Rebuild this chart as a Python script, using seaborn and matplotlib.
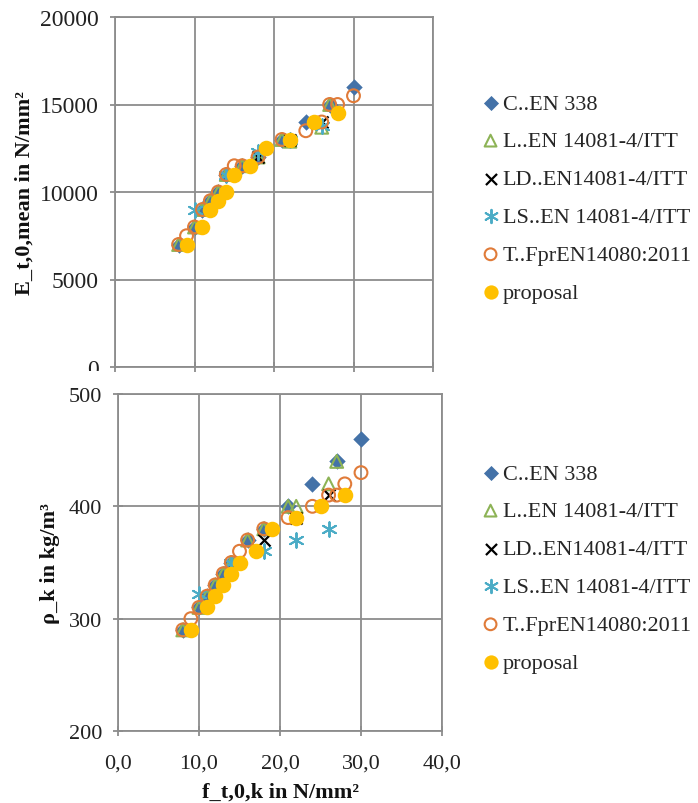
import numpy as np
import pandas as pd
import seaborn as sns
import matplotlib.pyplot as plt
from matplotlib.patches import Rectangle
from matplotlib.ticker import FuncFormatter

# C..EN 338
c_f = [8, 10, 11, 12, 13, 14, 16, 18, 21, 24, 27, 30]
c_e = [7000, 8000, 9000, 9500, 10000, 11000, 11500, 12000, 13000, 14000, 15000, 16000]
c_rho = [290, 310, 320, 330, 340, 350, 370, 380, 400, 420, 440, 460]

# L..EN 14081-4/ITT
l_f = [8, 10, 11, 12, 13, 14, 16, 18, 21, 22, 26, 27]
l_e = [7000, 8000, 9000, 9500, 10000, 11000, 11500, 12000, 13000, 12900, 13700, 15000]
l_rho = [290, 310, 320, 330, 340, 350, 370, 380, 400, 400, 420, 440]

# LD..EN14081-4/ITT
ld_f = [18, 22, 26]
ld_e = [12000, 13000, 14000]
ld_rho = [370, 390, 410]

# LS..EN 14081-4/ITT
ls_f = [10, 14, 18, 22, 26]
ls_e = [9000, 11000, 12300, 13000, 13800]
ls_rho = [322, 350, 360, 370, 380]

# T..FprEN14080:2011
t_f = [8, 9, 10, 11, 12, 13, 14, 15, 16, 18, 21, 24, 26, 27, 28, 30]
t_e = [7000, 7500, 8000, 9000, 9500, 10000, 11000, 11500, 11500, 12000, 13000, 13500,
       14000, 15000, 15000, 15500]
t_rho = [290, 300, 310, 320, 330, 340, 350, 360, 370, 380, 390, 400, 410, 410, 420, 430]

# proposal
p_f = [9, 11, 12, 13, 14, 15, 17, 19, 22, 25, 28]
p_e = [7000, 8000, 9000, 9500, 10000, 11000, 11500, 12500, 13000, 14000, 14500]
p_rho = [290, 310, 320, 330, 340, 350, 360, 380, 390, 400, 410]

labels = ["C..EN 338", "L..EN 14081-4/ITT", "LD..EN14081-4/ITT",
          "LS..EN 14081-4/ITT", "T..FprEN14080:2011", "proposal"]

sns.set_theme(style="white")
plt.rcParams['font.family'] = ['Liberation Serif', 'DejaVu Serif']

series = [
    (labels[0], c_f, c_e, c_rho, dict(marker='D', color='#4472A8', s=70, linewidth=0)),
    (labels[1], l_f, l_e, l_rho, dict(marker='^', color='#8DB356', facecolor='none',
                                      edgecolor='#8DB356', s=85, linewidth=1.5)),
    (labels[2], ld_f, ld_e, ld_rho, dict(marker='x', color='black', s=75, linewidth=1.6)),
    (labels[3], ls_f, ls_e, ls_rho, dict(marker=(6, 2, 0), color='#4BACC6', s=110, linewidth=1.4)),
    (labels[4], t_f, t_e, t_rho, dict(marker='o', color='#E07B39', facecolor='none',
                                      edgecolor='#E07B39', s=85, linewidth=1.5)),
    (labels[5], p_f, p_e, p_rho, dict(marker='o', color='#FFC000', s=125, linewidth=0)),
]

grey = '#8c8c8c'
fig = plt.figure(figsize=(6.98, 8.04), dpi=100)
ax1 = fig.add_axes([115 / 698, 1 - 368 / 804, 318 / 698, 350 / 804])
ax2 = fig.add_axes([118 / 698, 1 - 732 / 804, 324 / 698, 337 / 804])

for lab, f, e, rho, kw in series:
    sns.scatterplot(x=f, y=e, ax=ax1, label=lab, **kw)
    sns.scatterplot(x=f, y=rho, ax=ax2, label=lab, **kw)

fmt = FuncFormatter(lambda v, _: f"{v:.1f}".replace('.', ','))
for ax in (ax1, ax2):
    ax.set_xlim(0, 40)
    ax.set_xticks([0, 10, 20, 30, 40])
    ax.xaxis.set_major_formatter(fmt)
    ax.grid(True, color=grey, linewidth=1.3)
    ax.set_axisbelow(True)
    for sp in ax.spines.values():
        sp.set_color(grey)
        sp.set_linewidth(1.3)
    ax.tick_params(direction='inout', length=7, width=1.3, color=grey,
                   labelsize=16, labelcolor='#222222', left=True, bottom=True)
    ax.tick_params(axis='y', pad=8)
    ax.tick_params(axis='x', pad=13)
    ax.get_legend().remove()

ax1.set_ylim(0, 20000)
ax1.set_yticks([0, 5000, 10000, 15000, 20000])
ax1.tick_params(axis='x', labelbottom=False)
ax1.tick_params(axis='y', labelsize=17)
ax1.set_ylabel("E_t,0,mean in N/mm²", fontsize=16, fontweight='bold', color='#111111')

ax2.set_ylim(200, 500)
ax2.set_yticks([200, 300, 400, 500])
ax2.set_ylabel("ρ_k in kg/m³", fontsize=16, fontweight='bold', color='#111111', labelpad=6)
ax2.set_xlabel("f_t,0,k in N/mm²", fontsize=16, fontweight='bold', color='#111111', labelpad=6)

for ax, yc in ((ax1, 199), (ax2, 569)):
    h, l = ax.get_legend_handles_labels()
    ax.legend(h, l, loc='center left', bbox_to_anchor=(485 / 698, 1 - yc / 804),
              bbox_transform=fig.transFigure, frameon=False, fontsize=16,
              handlelength=0.5, handletextpad=0.3, labelspacing=0.78,
              markerscale=0.92, borderpad=0, borderaxespad=0)

# the lower chart covers the bottom of the upper one's "0" label
fig.add_artist(Rectangle((0, 1 - 386 / 804), 110 / 698, 14 / 804,
                         transform=fig.transFigure, facecolor='white',
                         edgecolor='none', zorder=10))

fig.savefig("out.png", dpi=100)
